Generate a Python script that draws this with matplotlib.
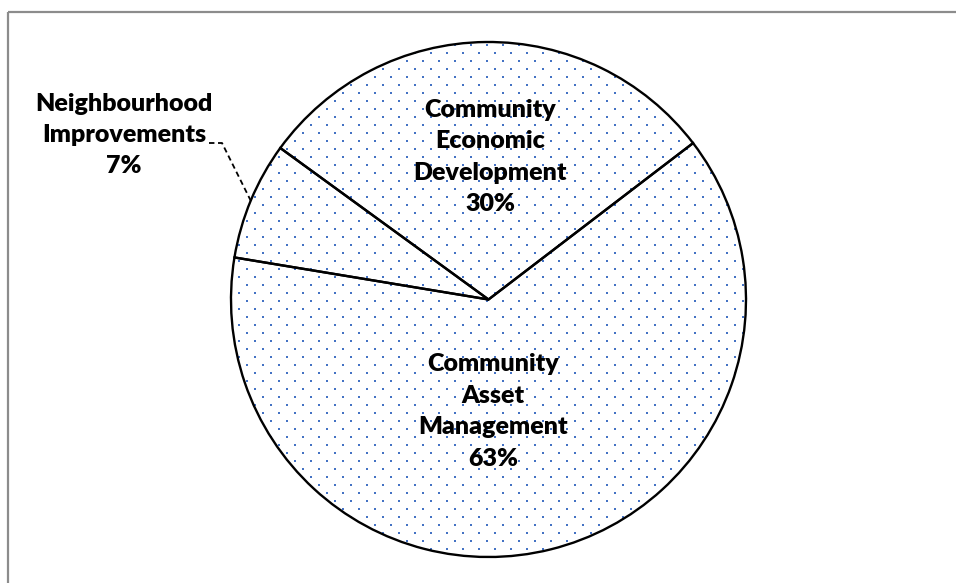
import numpy as np
from matplotlib import pyplot as plt
from matplotlib.patches import Circle

categories = ['Community\nEconomic\nDevelopment', 'Neighbourhood\nImprovements', 'Community\nAsset\nManagement']
shares = [29.6, 7.4, 63.0]
pct_labels = ['30%', '7%', '63%']

W, H = 956, 583
cx, cy, r = 488.5, H - 299.5, 257.5
dot_color = '#4472C4'

fig = plt.figure(figsize=(W / 100, H / 100), dpi=100)
ax = fig.add_axes([0, 0, 1, 1])

# chart area border (cut off at right and bottom)
ax.plot([8, W + 5], [H - 12, H - 12], color='#8c8c8c', lw=1.6, solid_capstyle='butt')
ax.plot([8, 8], [H - 12, -5], color='#8c8c8c', lw=1.6, solid_capstyle='butt')

wedges, _ = ax.pie(shares, center=(cx, cy), radius=r, startangle=37.4, counterclock=True,
                   colors=['white'] * 3, frame=True,
                   wedgeprops=dict(edgecolor='black', linewidth=1.7, zorder=3, fill=False))
ax.set_xlim(0, W)
ax.set_ylim(0, H)
ax.axis('off')

# dotted fill texture
gx = np.arange(cx - r - 16, cx + r + 16, 8)
gy = np.arange(cy - r - 16, cy + r + 16, 8)
X, Y = np.meshgrid(gx, gy)
ix = np.round((X - gx[0]) / 8).astype(int)
iy = np.round((Y - gy[0]) / 8).astype(int)
keep = (ix + iy) % 2 == 0
clip = Circle((cx, cy), r, transform=ax.transData)
dots = ax.scatter(X[keep], Y[keep], s=2.6, marker='s', color=dot_color, linewidths=0, zorder=2)
dots.set_clip_path(clip)

font = dict(family=['Lato', 'DejaVu Sans'], fontweight='heavy', fontsize=18,
            ha='center', va='center', linespacing=1.52, zorder=5)

ax.text(490.5, H - 157, categories[0] + '\n' + pct_labels[0], **font)
ax.text(493, H - 411.5, categories[2] + '\n' + pct_labels[2], **font)
ax.text(124, H - 135, categories[1] + '\n' + pct_labels[1], **font)

# leader line for the small slice
ax.plot([209, 222, 250.7], [H - 143, H - 143, H - 200.6], color='black', lw=1.3,
        linestyle=(0, (3, 2)), zorder=4)

plt.savefig('out.png', dpi=100)
